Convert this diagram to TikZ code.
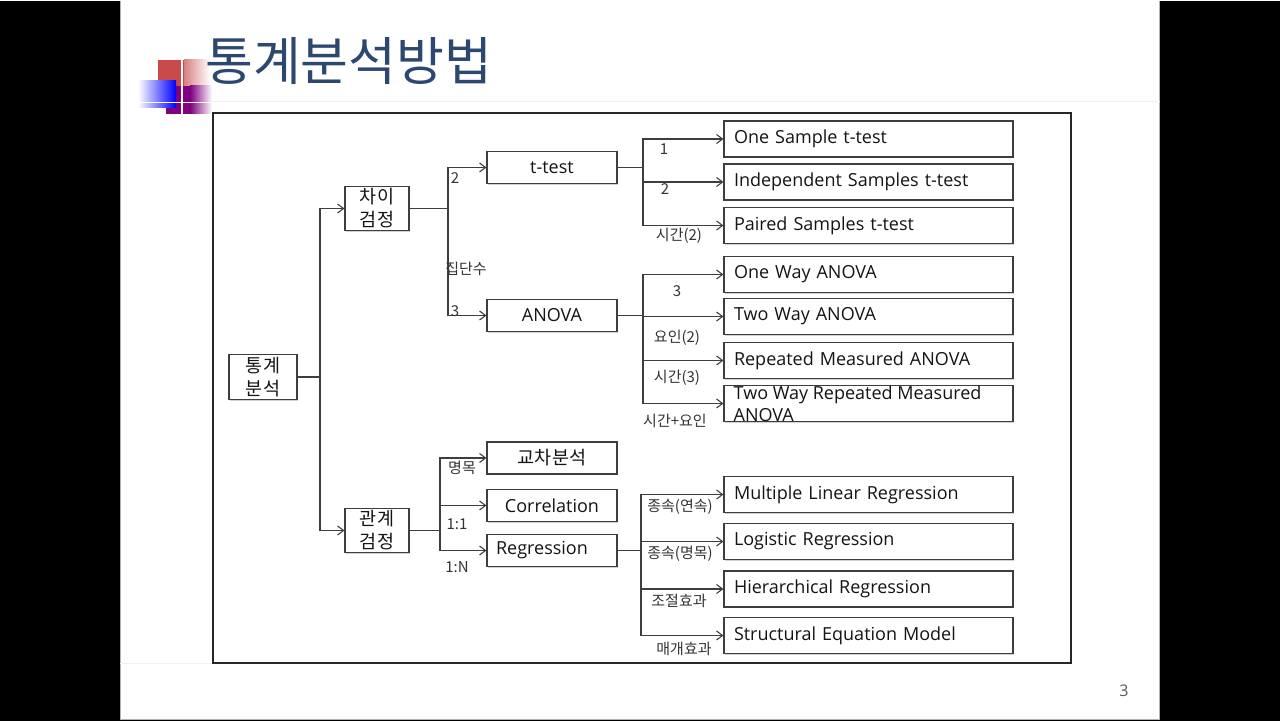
\documentclass[tikz,border=0pt]{standalone}
\usepackage{fontspec}
\setmainfont{Open Sans}
\newfontfamily\kr{Noto Sans CJK KR}
\usetikzlibrary{arrows.meta,shadows}
\definecolor{ttl}{RGB}{44,72,112}
\definecolor{ln}{RGB}{62,62,62}
\definecolor{redsq}{RGB}{200,74,74}
\definecolor{purp}{RGB}{128,0,128}
\begin{document}
\begin{tikzpicture}[x=1pt,y=-1pt,
 box/.style={draw=ln, line width=1.1pt, fill=white, inner sep=0pt, text=black!92,
   font=\fontsize{18}{22}\selectfont,
   drop shadow={shadow xshift=1.2pt, shadow yshift=-1.2pt, opacity=0.18, fill=black}},
 lbox/.style={box, minimum width=64pt, minimum height=44pt, align=center, font=\kr\fontsize{18.5}{23}\selectfont},
 mbox/.style={box, minimum width=130pt, minimum height=32pt},
 rbox/.style={box, text width=269pt, inner xsep=10pt, minimum height=36pt, align=left},
 arr/.style={draw=ln, line width=1.1pt, -{Straight Barb[length=6pt,width=9pt]}},
 con/.style={draw=ln, line width=1.1pt},
 lab/.style={font=\kr\fontsize{15}{17}\selectfont, text=black!80, inner sep=0pt},
]
% slide background
\fill[black] (0,0) rectangle (1280,720);
\fill[white] (120,0) rectangle (1160,718);
\draw[gray!60, line width=1pt] (120.5,0) -- (120.5,718.5) -- (1159.5,718.5) -- (1159.5,0);
\draw[gray!12, line width=1pt] (205,101) -- (1160,101);
\draw[gray!12, line width=1pt] (120,663) -- (213,663);
% decoration
\fill[redsq] (158,59) rectangle (184,85);
\shade[left color=redsq!70, right color=white] (184,59) rectangle (210,85);
\fill[purp] (166,85) rectangle (190,113);
\shade[left color=purp, right color=white] (190,85) rectangle (212,113);
\shade[left color=white, right color=blue] (138,80) rectangle (176,107);
\draw[white, line width=1.2pt] (182,54) -- (182,116);
\draw[white, line width=1.2pt] (140,102) -- (214,102);
% title
\node[anchor=west, inner sep=0pt, text=ttl, font=\kr\fontsize{52}{54}\selectfont] (title) at (205,61) {통계분석방법};
% frame
\draw[black!85, line width=2pt] (213,112) rectangle (1071,662);
% page number
\node[text=black!65, font=\fontsize{16}{18}\selectfont, inner sep=0pt] (pg) at (1124,690) {3};

% left nodes
\node[lbox, minimum width=68pt, minimum height=45pt] (tg) at (263,376.5) {통계\\분석};
\node[lbox] (cy) at (377,208) {차이\\검정};
\node[lbox] (gg) at (377,530) {관계\\검정};
% middle nodes
\node[mbox] (tt) at (552,167) {t-test};
\node[mbox] (an) at (552,315) {ANOVA};
\node[mbox, font=\kr\fontsize{18.5}{22}\selectfont] (kc) at (552,457.5) {교차분석};
\node[mbox] (co) at (552,505) {Correlation};
\node[mbox] (rg) at (552,550) {Regression\kern20pt\relax};
% right nodes
\node[rbox] (r1) at (868.5,138.5) {One Sample t-test};
\node[rbox] (r2) at (868.5,181.5) {Independent Samples t-test};
\node[rbox] (r3) at (868.5,225) {Paired Samples t-test};
\node[rbox] (a1) at (868.5,274) {One Way ANOVA};
\node[rbox] (a2) at (868.5,316) {Two Way ANOVA};
\node[rbox] (a3) at (868.5,360) {Repeated Measured ANOVA};
\node[rbox] (a4) at (868.5,403) {};
\node[anchor=west, align=left, inner sep=0pt, text=black!92, font=\fontsize{18}{22}\selectfont] (a4t) at ([xshift=10pt]a4.west) {Two Way Repeated Measured\\ANOVA};
\node[rbox] (g1) at (868.5,494) {Multiple Linear Regression};
\node[rbox] (g2) at (868.5,541) {Logistic Regression};
\node[rbox] (g3) at (868.5,588.5) {Hierarchical Regression};
\node[rbox] (g4) at (868.5,635) {Structural Equation Model};

% junctions
\coordinate (jA) at (320,376.5);
\coordinate (jB) at (448,208);
\coordinate (jC) at (440,530);
\coordinate (jD) at (643,167);
\coordinate (jE) at (643,315);
\coordinate (jF) at (641,550);

\draw[con] (tg.east) -- (jA);
\draw[arr] (jA) |- (cy.west);
\draw[arr] (jA) |- (gg.west);

\draw[con] (cy.east) -- (jB);
\draw[arr] (jB) |- (tt.west);
\draw[arr] (jB) |- (an.west);

\draw[con] (gg.east) -- (jC);
\draw[arr] (jC) |- (kc.west);
\draw[arr] (jC) |- (co.west);
\draw[arr] (jC) |- (rg.west);

\draw[con] (tt.east) -- (jD);
\draw[arr] (jD) |- (r1.west);
\draw[arr] (jD) |- (r2.west);
\draw[arr] (jD) |- (r3.west);

\draw[con, line width=1.6pt] (an.east) -- (jE);
\draw[arr] (jE) |- (a1.west);
\draw[arr] (jE) |- (a2.west);
\draw[arr] (jE) |- (a3.west);
\draw[arr] (jE) |- (a4.west);

\draw[con] (rg.east) -- (jF);
\draw[arr] (jF) |- (g1.west);
\draw[arr] (jF) |- (g2.west);
\draw[arr] (jF) |- (g3.west);
\draw[arr] (jF) |- (g4.west);

% labels
\node[lab] (l1) at (455,178) {2};
\node[lab] (l2) at (455,311) {3};
\node[lab] (l3) at (466,268) {집단수};
\node[lab] (l4) at (664,149) {1};
\node[lab] (l5) at (665,189) {2};
\node[lab] (l6) at (679,235) {시간(2)};
\node[lab] (l7) at (677,291) {3};
\node[lab] (l8) at (677,337) {요인(2)};
\node[lab] (l9) at (677,377) {시간(3)};
\node[lab] (l10) at (675,420) {시간+요인};
\node[lab] (l11) at (462,467) {명목};
\node[lab] (l12) at (457,524) {1:1};
\node[lab] (l13) at (457,567) {1:N};
\node[lab] (l14) at (680,506) {종속(연속)};
\node[lab] (l15) at (680,553) {종속(명목)};
\node[lab] (l16) at (679,600) {조절효과};
\node[lab] (l17) at (684,648) {매개효과};
\end{tikzpicture}
\end{document}
